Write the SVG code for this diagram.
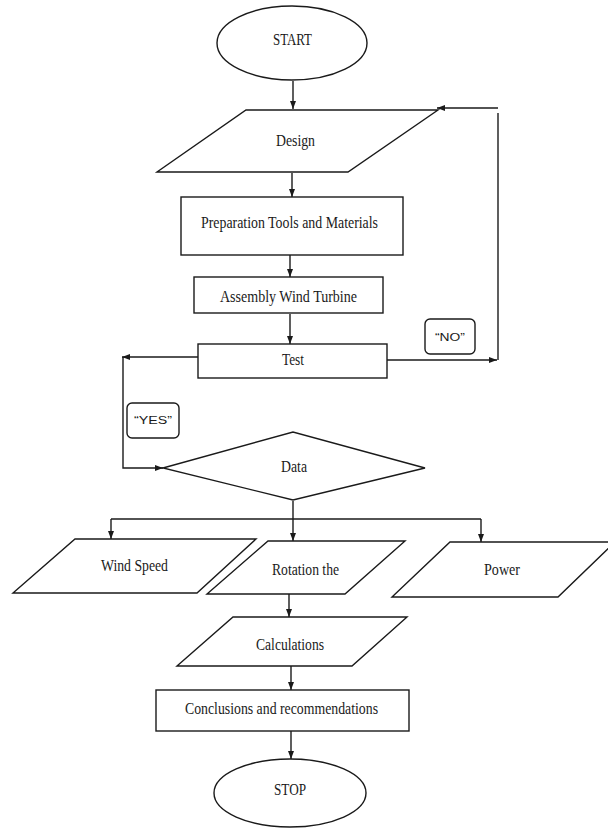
<svg xmlns="http://www.w3.org/2000/svg" width="608" height="828" viewBox="0 0 608 828">
<style>
.s{fill:#fff;stroke:#1a1a1a;stroke-width:1.4}
.c{fill:none;stroke:#1a1a1a;stroke-width:1.4}
.t{font-family:"Liberation Serif","Times New Roman",serif;font-size:16px;fill:#1a1a1a;text-anchor:middle}
.q{font-family:"Liberation Sans",Arial,sans-serif;font-size:10px;fill:#1a1a1a;text-anchor:middle}
</style>
<defs>
<marker id="ah" markerWidth="8" markerHeight="6" refX="8" refY="3" orient="auto" markerUnits="userSpaceOnUse">
<path d="M0,0 L8,3 L0,6 z" fill="#1a1a1a"/>
</marker>
</defs>
<rect width="608" height="828" fill="#fff"/>
<g id="connectors">
<path class="c" d="M293,81 V109" marker-end="url(#ah)"/>
<path class="c" d="M292,173 V197" marker-end="url(#ah)"/>
<path class="c" d="M290,255 V277" marker-end="url(#ah)"/>
<path class="c" d="M290,314 V344" marker-end="url(#ah)"/>
<path class="c" d="M198,357 H122" marker-end="url(#ah)"/>
<path class="c" d="M123,357 V468 H163" marker-end="url(#ah)"/>
<path class="c" d="M387,360 H497" marker-end="url(#ah)"/>
<path class="c" d="M498,360 V113"/>
<path class="c" d="M498,108 H437" marker-end="url(#ah)"/>
<path class="c" d="M293,501 V541" marker-end="url(#ah)"/>
<path class="c" d="M111,519 H481"/>
<path class="c" d="M111,519 V539" marker-end="url(#ah)"/>
<path class="c" d="M481,519 V542" marker-end="url(#ah)"/>
<path class="c" d="M289,594 V617" marker-end="url(#ah)"/>
<path class="c" d="M291,666 V690" marker-end="url(#ah)"/>
<path class="c" d="M291,731 V759" marker-end="url(#ah)"/>
</g>
<g id="start">
<ellipse class="s" cx="292" cy="43" rx="75" ry="37"/>
<text class="t" x="292.5" y="45" textLength="39" lengthAdjust="spacingAndGlyphs">START</text>
</g>
<g id="design">
<polygon class="s" points="246,110 438,110 348,172 157,172"/>
<text class="t" x="295.5" y="146" textLength="39" lengthAdjust="spacingAndGlyphs">Design</text>
</g>
<g id="preparation">
<rect class="s" x="181" y="197" width="222" height="58"/>
<text class="t" x="289.5" y="228" textLength="177" lengthAdjust="spacingAndGlyphs">Preparation Tools and Materials</text>
</g>
<g id="assembly">
<rect class="s" x="194" y="277" width="189" height="36"/>
<text class="t" x="288.5" y="302" textLength="137" lengthAdjust="spacingAndGlyphs">Assembly Wind Turbine</text>
</g>
<g id="test">
<rect class="s" x="198" y="344" width="189" height="34"/>
<text class="t" x="293" y="365" textLength="22" lengthAdjust="spacingAndGlyphs">Test</text>
</g>
<g id="no-label">
<rect class="s" x="425" y="319" width="50" height="35" rx="5"/>
<text class="q" x="450" y="341" textLength="30" lengthAdjust="spacingAndGlyphs">“NO”</text>
</g>
<g id="yes-label">
<rect class="s" x="127" y="403" width="52" height="35" rx="5"/>
<text class="q" x="153" y="424" textLength="38" lengthAdjust="spacingAndGlyphs">“YES”</text>
</g>
<g id="data">
<polygon class="s" points="163,468 293,432 425,468 293,500"/>
<text class="t" x="294" y="472" textLength="26" lengthAdjust="spacingAndGlyphs">Data</text>
</g>
<g id="wind-speed">
<polygon class="s" points="75,539 256,539 197,593 13,593"/>
<text class="t" x="134.5" y="571" textLength="67" lengthAdjust="spacingAndGlyphs">Wind Speed</text>
</g>
<g id="rotation">
<polygon class="s" points="268,541 405,541 345,594 207,594"/>
<text class="t" x="305.5" y="575" textLength="67" lengthAdjust="spacingAndGlyphs">Rotation the</text>
</g>
<g id="power">
<polygon class="s" points="450,542 615,542 558,597 392,597"/>
<text class="t" x="502" y="575" textLength="36" lengthAdjust="spacingAndGlyphs">Power</text>
</g>
<g id="calculations">
<polygon class="s" points="233,617 407,617 352,666 177,666"/>
<text class="t" x="290" y="650" textLength="68" lengthAdjust="spacingAndGlyphs">Calculations</text>
</g>
<g id="conclusions">
<rect class="s" x="156" y="690" width="253" height="41"/>
<text class="t" x="281.5" y="714" textLength="193" lengthAdjust="spacingAndGlyphs">Conclusions and recommendations</text>
</g>
<g id="stop">
<ellipse class="s" cx="290" cy="793" rx="76" ry="34"/>
<text class="t" x="290" y="795" textLength="32" lengthAdjust="spacingAndGlyphs">STOP</text>
</g>
</svg>
